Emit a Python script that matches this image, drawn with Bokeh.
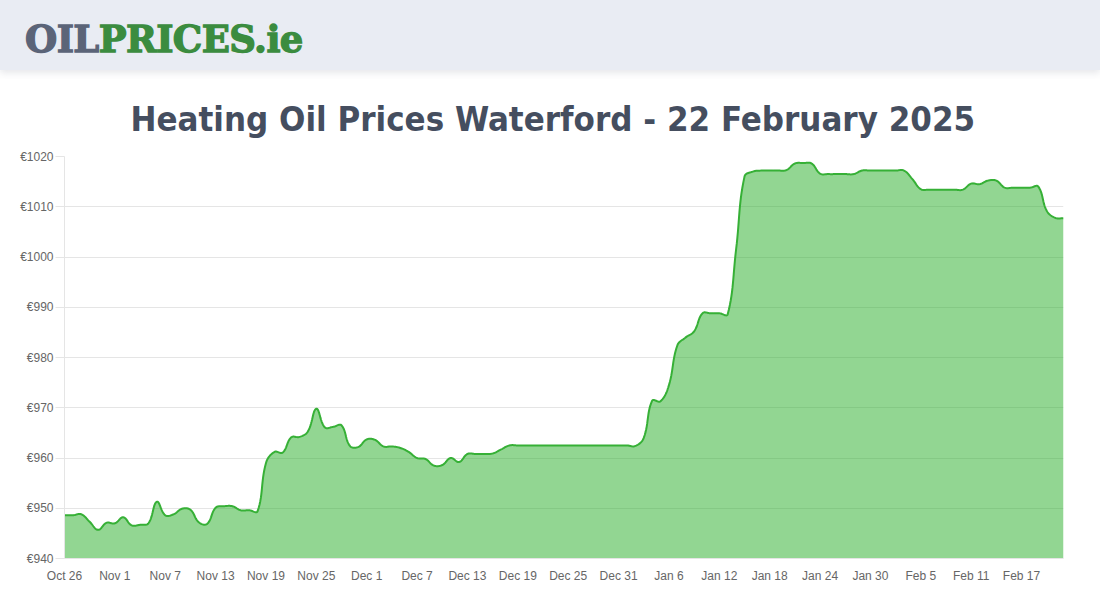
import numpy as np
from bokeh.plotting import figure
from bokeh.layouts import column
from bokeh.models import Range1d, FixedTicker, Div
from bokeh.embed import file_html
from bokeh.resources import INLINE

# ---------------- data ----------------
prices = [
    948.6, 948.6, 948.8, 947.3, 945.7, 947.1, 947.0, 948.2, 946.6, 946.7,
    947.0, 951.3, 948.6, 948.8, 949.9, 949.7, 947.2, 946.9, 950.1, 950.4,
    950.4, 949.6, 949.6, 949.4, 959.0, 961.2, 961.1, 964.1, 964.2, 965.3,
    969.8, 966.1, 966.2, 966.5, 962.4, 962.2, 963.7, 963.6, 962.3, 962.3,
    962.0, 961.2, 960.0, 959.8, 958.5, 958.6, 960.0, 959.2, 960.8, 960.8,
    960.8, 960.9, 961.7, 962.5, 962.5, 962.5, 962.5, 962.5, 962.5, 962.5,
    962.5, 962.5, 962.5, 962.5, 962.5, 962.5, 962.5, 962.5, 962.4, 964.0,
    971.4, 971.3, 974.5, 982.4, 984.0, 985.2, 988.8, 988.8, 988.8, 988.6,
    1001.5, 1016.0, 1017.0, 1017.2, 1017.2, 1017.2, 1017.3, 1018.6, 1018.7, 1018.6,
    1016.6, 1016.5, 1016.5, 1016.5, 1016.5, 1017.2, 1017.2, 1017.2, 1017.2, 1017.2,
    1017.2, 1015.5, 1013.5, 1013.4, 1013.4, 1013.4, 1013.4, 1013.4, 1014.6, 1014.5,
    1015.2, 1015.2, 1013.8, 1013.8, 1013.8, 1013.8, 1014.0, 1009.2, 1007.8, 1007.7,
]
tick_labels = ["Oct 26", "Nov 1", "Nov 7", "Nov 13", "Nov 19", "Nov 25", "Dec 1",
               "Dec 7", "Dec 13", "Dec 19", "Dec 25", "Dec 31", "Jan 6", "Jan 12",
               "Jan 18", "Jan 24", "Jan 30", "Feb 5", "Feb 11", "Feb 17"]
tick_step = 6
y_ticks = [940, 950, 960, 970, 980, 990, 1000, 1010, 1020]
title_text = "Heating Oil Prices Waterford - 22 February 2025"
logo_parts = ["OIL", "PRICES.ie"]

days = np.arange(len(prices))


def smooth(xs, ys, t=0.4, sx=8.395, sy=5.025, steps=14):
    """Chart.js style bezier smoothing computed in pixel space."""
    px = np.asarray(xs, float) * sx
    py = np.asarray(ys, float) * sy
    n = len(px)
    cpp = np.zeros((n, 2))
    cpn = np.zeros((n, 2))
    for i in range(n):
        a = max(i - 1, 0)
        b = min(i + 1, n - 1)
        d01 = np.hypot(px[i] - px[a], py[i] - py[a])
        d12 = np.hypot(px[b] - px[i], py[b] - py[i])
        tot = d01 + d12
        s01 = d01 / tot if tot else 0
        s12 = d12 / tot if tot else 0
        fa, fb = t * s01, t * s12
        dx, dy = px[b] - px[a], py[b] - py[a]
        cpp[i] = (px[i] - fa * dx, py[i] - fa * dy)
        cpn[i] = (px[i] + fb * dx, py[i] + fb * dy)
    ox, oy = [px[0]], [py[0]]
    for i in range(n - 1):
        P0 = np.array([px[i], py[i]])
        P1 = cpn[i]
        P2 = cpp[i + 1]
        P3 = np.array([px[i + 1], py[i + 1]])
        for s in np.linspace(0, 1, steps + 1)[1:]:
            q = ((1 - s) ** 3) * P0 + 3 * ((1 - s) ** 2) * s * P1 + 3 * (1 - s) * s * s * P2 + s ** 3 * P3
            ox.append(q[0])
            oy.append(q[1])
    return np.array(ox) / sx, np.array(oy) / sy


cx, cy = smooth(days, prices)

# ---------------- header band (logo) ----------------
HEAD_H = 78
header = Div(
    width=1100, height=HEAD_H, margin=0,
    text=(
        '<div style="position:absolute;left:0;top:0;width:1100px;height:70px;'
        'background:#e9ecf3;box-shadow:0 3px 7px rgba(60,70,90,0.13);">'
        '<div style="position:absolute;left:25px;top:21px;line-height:36px;white-space:nowrap;'
        "font-family:'DejaVu Serif';font-weight:bold;font-size:37px;letter-spacing:-0.6px;"
        '-webkit-text-stroke:1.3px currentColor;">'
        f'<span style="color:#5b6478">{logo_parts[0]}</span>'
        f'<span style="color:#3b8c3f">{logo_parts[1]}</span>'
        '</div></div>'
    ),
)

# ---------------- chart ----------------
p = figure(width=1100, height=600 - HEAD_H, x_range=Range1d(0, len(prices) - 1),
           y_range=Range1d(940, 1020), output_backend="svg", toolbar_location=None,
           min_border_left=64, min_border_right=37, min_border_top=156 - HEAD_H,
           min_border_bottom=42, margin=0)
p.outline_line_color = None
p.background_fill_color = "white"
p.border_fill_color = "white"

p.title.text = title_text
p.title.align = "left"
p.title.offset = 66
p.title.text_font = "DejaVu Sans Condensed, DejaVu Sans"
p.title.text_font_style = "bold"
p.title.text_font_size = "34.5px"
p.title.text_color = "#454e5f"
p.title.standoff = 35

p.varea(x=cx, y1=940, y2=cy, fill_color=(37, 173, 37), fill_alpha=0.5)
p.line(cx, cy, line_color="#36b036", line_width=2)

p.xgrid.visible = False
p.ygrid.grid_line_color = "#e5e5e5"
p.ygrid.ticker = FixedTicker(ticks=y_ticks)

p.yaxis.ticker = FixedTicker(ticks=y_ticks)
p.yaxis.major_label_overrides = {v: "€" + str(v) for v in y_ticks}
p.yaxis.axis_line_color = "#e5e5e5"
p.yaxis.major_tick_line_color = "#e5e5e5"
p.yaxis.major_tick_out = 9
p.yaxis.major_tick_in = 0
p.yaxis.minor_tick_line_color = None
p.yaxis.major_label_standoff = 2
p.yaxis.major_label_text_font = "Liberation Sans"
p.yaxis.major_label_text_font_size = "12px"
p.yaxis.major_label_text_color = "#666666"

xt = [i * tick_step for i in range(len(tick_labels))]
p.xaxis.ticker = FixedTicker(ticks=xt)
p.xaxis.major_label_overrides = {t: lab for t, lab in zip(xt, tick_labels)}
p.xaxis.axis_line_color = "#e5e5e5"
p.xaxis.major_tick_line_color = None
p.xaxis.minor_tick_line_color = None
p.xaxis.major_tick_out = 0
p.xaxis.major_label_standoff = 10
p.xaxis.major_label_text_font = "Liberation Sans"
p.xaxis.major_label_text_font_size = "12px"
p.xaxis.major_label_text_color = "#666666"

layout = column(header, p, spacing=0)
open("out.html", "w").write(file_html(layout, INLINE))
